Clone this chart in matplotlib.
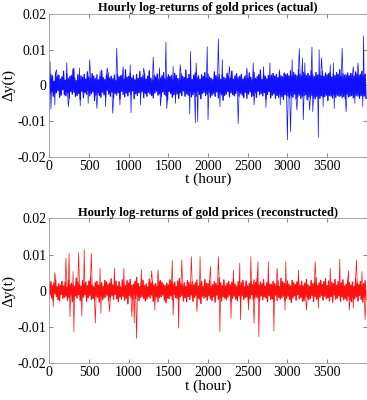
import numpy as np
import matplotlib.pyplot as plt

plt.rcParams['font.family'] = ['Liberation Serif', 'DejaVu Serif']
plt.rcParams['axes.unicode_minus'] = False
# keep every zigzag vertex, otherwise the dense band gets thinned out
plt.rcParams['path.simplify'] = False

# one value every 10 hours, values in units of 1e-4
step = 10

# actual series: small returns band
actual_band = [
    22, -25, 31, -18, 27, -30, 12, -22, 35, -20, 26, -14, 29, -33, 18, -27, 24, -12, 40, -26,
    15, -29, 33, -21, 19, -36, 25, -17, 28, -24, 45, -19, 21, -31, 14, -28, 30, -22, 17, -40,
    27, -16, 23, -34, 31, -20, 18, -25, 38, -15, 24, -29, 20, -23, 33, -18, 26, -42, 19, -27,
    30, -21, 16, -28, 25, -33, 42, -19, 22, -26, 17, -31, 28, -14, 35, -24, 21, -30, 26, -18,
    19, -35, 29, -22, 14, -27, 32, -20, 24, -38, 27, -16, 30, -25, 18, -32, 44, -21, 23, -29,
    25, -18, 34, -26, 21, -15, 28, -37, 16, -23, 31, -28, 19, -20, 39, -25, 22, -17, 27, -34,
    33, -22, 18, -30, 26, -19, 41, -24, 20, -28, 15, -35, 29, -21, 24, -16, 32, -27, 17, -23,
    21, -31, 27, -18, 36, -25, 19, -29, 23, -40, 30, -17, 25, -22, 28, -33, 16, -26, 34, -20,
    28, -24, 20, -36, 17, -21, 33, -28, 26, -15, 22, -30, 43, -23, 19, -27, 31, -18, 24, -32,
    17, -26, 29, -20, 35, -31, 22, -16, 27, -25, 18, -37, 30, -22, 25, -19, 36, -28, 21, -24,
    32, -19, 24, -33, 20, -27, 16, -22, 38, -30, 28, -18, 23, -35, 31, -21, 17, -26, 29, -41,
    23, -28, 19, -24, 34, -17, 26, -32, 21, -20, 40, -25, 18, -29, 27, -23, 33, -16, 22, -30,
    26, -22, 31, -27, 18, -34, 24, -19, 29, -36, 20, -24, 35, -18, 23, -31, 16, -28, 37, -21,
    20, -33, 25, -16, 30, -26, 43, -22, 17, -29, 32, -20, 26, -38, 19, -25, 28, -17, 24, -35,
    29, -27, 34, -23, 26, -36, 31, -28, 22, -33, 38, -25, 27, -31, 24, -39, 35, -26, 30, -29,
    33, -30, 27, -35, 41, -28, 25, -33, 36, -24, 30, -38, 28, -32, 45, -27, 31, -36, 26, -30,
    37, -29, 32, -26, 28, -40, 34, -31, 27, -35, 42, -28, 30, -33, 25, -37, 36, -30, 29, -34,
    31, -36, 27, -29, 39, -33, 26, -31, 35, -27, 30, -42, 33, -28, 37, -30, 24, -35, 32, -26,
    28, -33, 36, -27, 31, -30, 44, -29, 26, -34, 33, -31, 29, -37, 30, -25, 35, -32, 27, -30,
    34, -28, 30, -35, 26, -31, 38, -27, 33, -30, 29, -36, 31, -28, 40, -33, 27, -29, 32, -36,
]
# actual series: visible spikes (hour, value)
actual_spike_t = [
    10, 20, 70, 90, 220, 240, 310, 380, 390, 490, 510, 600, 640, 710, 730, 800, 850, 890,
    930, 1020, 1030, 1150, 1190, 1310, 1390, 1400, 1470, 1480, 1560, 1590, 1650, 1770,
    1780, 1840, 1850, 1870, 1990, 2000, 2130, 2150, 2180, 2270, 2380, 2490, 2570, 2580,
    2700, 2730, 2780, 2900, 2910, 3000, 3040, 3060, 3120, 3150, 3190, 3200, 3220, 3280,
    3310, 3320, 3390, 3400, 3430, 3450, 3540, 3580, 3590, 3690, 3740, 3830, 3850, 3890,
    3950, 3960,
]
actual_spike_v = [
    67, -66, -54, 44, 64, -59, 49, 49, -57, -50, 72, -64, 39, -59, 49, -78, 104, -54,
    53, 58, -76, -54, 49, 79, 49, -57, 121, -64, 53, -50, 58, -80,
    95, -104, 63, -101, 109, -96, 130, -59, 72, 53, -107, 49, 63, -54,
    53, -61, 63, 44, -54, -152, -129, 72, -68, 103, 77, -96, 63, -68,
    107, -73, -145, 100, 77, -59, 58, 63, -64, 104, -73, 53, -50, 63,
    -59, 139,
]

# reconstructed series: small returns band
recon_band = [
    18, -12, 25, -20, 14, -27, 22, -9, 30, -16, 11, -24, 19, -28, 15, -10, 26, -21, 13, -18,
    24, -15, 10, -26, 29, -19, 16, -12, 21, -30, 17, -23, 12, -14, 35, -20, 25, -11, 18, -27,
    13, -22, 28, -17, 20, -11, 24, -29, 14, -19, 27, -13, 38, -24, 16, -21, 11, -26, 23, -15,
    26, -18, 15, -31, 19, -14, 22, -25, 12, -20, 29, -16, 24, -12, 17, -28, 21, -19, 33, -13,
    16, -24, 20, -10, 27, -22, 13, -30, 25, -17, 11, -23, 30, -15, 19, -26, 14, -20, 28, -36,
    21, -13, 31, -19, 15, -25, 18, -11, 26, -22, 37, -14, 20, -27, 12, -18, 24, -16, 29, -21,
    14, -28, 19, -23, 11, -15, 32, -20, 22, -12, 25, -29, 16, -24, 20, -17, 13, -31, 27, -19,
    28, -16, 23, -12, 18, -26, 14, -33, 21, -20, 16, -22, 30, -14, 26, -25, 19, -11, 24, -18,
    12, -21, 27, -25, 34, -17, 20, -13, 15, -28, 22, -19, 12, -30, 28, -16, 23, -24, 17, -12,
    25, -29, 16, -18, 22, -14, 30, -21, 13, -23, 19, -35, 26, -15, 11, -20, 31, -17, 21, -26,
    19, -14, 28, -22, 12, -27, 17, -16, 25, -31, 20, -12, 15, -24, 36, -19, 22, -28, 14, -17,
    30, -20, 13, -25, 21, -18, 26, -12, 16, -29, 23, -21, 32, -15, 18, -23, 12, -27, 25, -14,
    15, -26, 22, -13, 29, -24, 11, -19, 27, -17, 14, -33, 20, -22, 26, -11, 17, -25, 30, -20,
    23, -17, 35, -21, 16, -28, 24, -14, 19, -25, 31, -16, 13, -20, 22, -30, 27, -13, 18, -24,
    17, -22, 26, -30, 20, -12, 15, -27, 28, -18, 12, -23, 34, -19, 25, -15, 21, -28, 16, -21,
    27, -15, 18, -24, 13, -32, 29, -20, 22, -14, 17, -26, 24, -11, 30, -22, 14, -18, 26, -29,
    14, -27, 21, -16, 31, -19, 16, -25, 12, -21, 28, -13, 19, -30, 23, -17, 36, -24, 15, -20,
    22, -18, 29, -13, 17, -26, 25, -15, 33, -22, 14, -19, 27, -28, 12, -16, 24, -31, 20, -12,
    31, -23, 15, -20, 26, -14, 19, -29, 22, -17, 30, -25, 13, -21, 18, -27, 29, -15, 23, -26,
    16, -30, 24, -19, 12, -22, 34, -16, 21, -28, 17, -13, 26, -24, 15, -31, 20, -18, 28, -23,
]
recon_spike_t = [
    50, 70, 210, 250, 260, 300, 310, 370, 410, 440, 530, 580, 640, 650, 760, 820, 940,
    1040, 1070, 1100, 1160, 1290, 1330, 1370, 1550, 1560, 1630, 1670, 1790, 1860, 1900,
    2030, 2130, 2150, 2290, 2320, 2400, 2410, 2510, 2540, 2580, 2630, 2640, 2760, 2830,
    2870, 2970, 2980, 3140, 3240, 3350, 3390, 3540, 3660, 3770, 3780, 3830, 3870, 3940,
    3980,
]
recon_spike_v = [
    -44, 50, 90, 103, -71, 53, -113, 105, -69, 113, 103, -89, 62, -62, -57, 62, 62,
    -71, -89, -131, 58, 55, -53, 57, 83, -67, -103, 85, 94, -57, 94,
    67, 94, -113, -76, 57, 76, -80, -53, 94, -89, 80, -126, 80, -111,
    62, -53, 80, 57, -53, 80, -48, 62, 87, 55, -53, -48, 85, 53,
    -79,
]

xticks = [0, 500, 1000, 1500, 2000, 2500, 3000, 3500]
yticks = [-0.02, -0.01, 0, 0.01, 0.02]
ytick_labels = ['-0.02', '-0.01', '0', '0.01', '0.02']


def build(band, spike_t, spike_v):
    y = np.array(band, dtype=float)
    for t, v in zip(spike_t, spike_v):
        y[t // step] = v
    t = np.arange(len(y)) * step
    return t, y * 1e-4


def style(ax, title):
    ax.set_xlim(0, 4000)
    ax.set_ylim(-0.02, 0.02)
    ax.set_xticks(xticks)
    ax.set_xticklabels([str(v) for v in xticks])
    ax.set_yticks(yticks)
    ax.set_yticklabels(ytick_labels)
    ax.tick_params(direction='in', top=True, right=True, length=3, width=0.5,
                   color='#555555', labelsize=10, pad=2)
    for s in ax.spines.values():
        s.set_color('#9a9a9a')
        s.set_linewidth(0.6)
    ax.set_title(title, fontsize=9, fontweight='bold', pad=2)
    ax.set_xlabel('t (hour)', fontsize=11, labelpad=0)
    ax.set_ylabel('Δy(t)', fontsize=11, labelpad=2)


def draw(ax, band, spike_t, spike_v, color):
    t, y = build(band, spike_t, spike_v)
    # dense core drawn a bit heavier, then the full series thin on top
    ax.plot(t, np.array(band) * 1e-4, color=color, linewidth=0.9)
    ax.plot(t, y, color=color, linewidth=0.5)


fig = plt.figure(figsize=(3.67, 4.0), dpi=100)
ax1 = fig.add_axes([0.1343, 0.6075, 0.865, 0.3575])
ax2 = fig.add_axes([0.1343, 0.0918, 0.865, 0.3625])

draw(ax1, actual_band, actual_spike_t, actual_spike_v, '#1010ff')
style(ax1, 'Hourly log-returns of gold prices (actual)')

draw(ax2, recon_band, recon_spike_t, recon_spike_v, '#ff1010')
style(ax2, 'Hourly log-returns of gold prices (reconstructed)')

fig.savefig('out.png', dpi=100)
